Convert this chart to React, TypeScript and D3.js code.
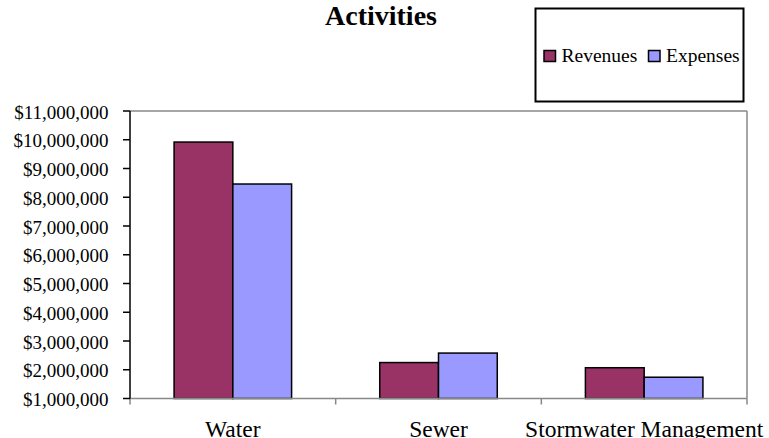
import React from "react";
import * as d3 from "d3";

// Fund activities: revenues vs expenses
const categories = ["Water", "Sewer", "Stormwater Management"];
const seriesNames = ["Revenues", "Expenses"];
const revenues = [9920000, 2250000, 2070000];
const expenses = [8460000, 2580000, 1740000];
const yTicks = [1000000, 2000000, 3000000, 4000000, 5000000, 6000000, 7000000, 8000000, 9000000, 10000000, 11000000];
const colors = ["#993366", "#9999FF"];

const W = 769;
const H = 438;
const plot = { left: 130, right: 747, top: 111, bottom: 398.5 };

export default function App() {
  const x = d3.scaleBand<string>().domain(categories).range([plot.left, plot.right]).padding(0);
  const xi = d3.scaleBand<string>().domain(seriesNames).range([0, x.bandwidth()]).paddingInner(0).paddingOuter(0.75);
  const y = d3.scaleLinear().domain([1000000, 11000000]).range([plot.bottom, plot.top]);
  const fmt = (v: number) => "$" + d3.format(",")(v);
  const series = [revenues, expenses];
  const serif = "'Liberation Serif', 'Times New Roman', serif";
  const boundaries = [...categories.map((c) => x(c) as number), plot.right];

  return (
    <svg width={W} height={H} style={{ position: "absolute", left: 0, top: 0, background: "#fff" }} fontFamily={serif}>
      <text x={381} y={25} textAnchor="middle" fontSize={28} fontWeight="bold">Activities</text>

      {/* plot frame */}
      <line x1={plot.left} x2={plot.right} y1={plot.top} y2={plot.top} stroke="#888" strokeWidth={1.5} />
      <line x1={plot.right} x2={plot.right} y1={plot.top} y2={plot.bottom} stroke="#888" strokeWidth={1.5} />

      {/* bars */}
      {series.map((vals, si) =>
        categories.map((c, ci) => (
          <rect
            key={`${si}-${ci}`}
            x={(x(c) as number) + (xi(seriesNames[si]) as number)}
            y={y(vals[ci])}
            width={xi.bandwidth()}
            height={plot.bottom - y(vals[ci])}
            fill={colors[si]}
            stroke="#000"
            strokeWidth={1.5}
          />
        ))
      )}

      {/* x axis */}
      <line x1={plot.left} x2={plot.right} y1={plot.bottom} y2={plot.bottom} stroke="#888" strokeWidth={1.5} />
      {boundaries.map((b, i) => (
        <line key={i} x1={b} x2={b} y1={plot.bottom} y2={plot.bottom + 6} stroke="#888" strokeWidth={1.5} />
      ))}
      {categories.map((c) => (
        <text key={c} x={(x(c) as number) + x.bandwidth() / 2} y={437} textAnchor="middle" fontSize={23.5}>
          {c}
        </text>
      ))}

      {/* y axis */}
      <line x1={plot.left} x2={plot.left} y1={plot.top} y2={plot.bottom} stroke="#000" strokeWidth={1.5} />
      {yTicks.map((t) => (
        <g key={t}>
          <line x1={plot.left - 7} x2={plot.left} y1={y(t)} y2={y(t)} stroke="#000" strokeWidth={1.5} />
          <text x={108.5} y={y(t) + 7.5} textAnchor="end" fontSize={19}>
            {fmt(t)}
          </text>
        </g>
      ))}

      {/* legend */}
      <rect x={535.5} y={8.5} width={208} height={93} fill="#fff" stroke="#000" strokeWidth={2} />
      {seriesNames.map((s, i) => {
        const lx = i === 0 ? 544 : 648.5;
        return (
          <g key={s}>
            <rect x={lx} y={50.5} width={11.5} height={11} fill={colors[i]} stroke="#000" strokeWidth={1.5} />
            <text x={lx + 17.5} y={62} fontSize={19.5}>{s}</text>
          </g>
        );
      })}
    </svg>
  );
}
